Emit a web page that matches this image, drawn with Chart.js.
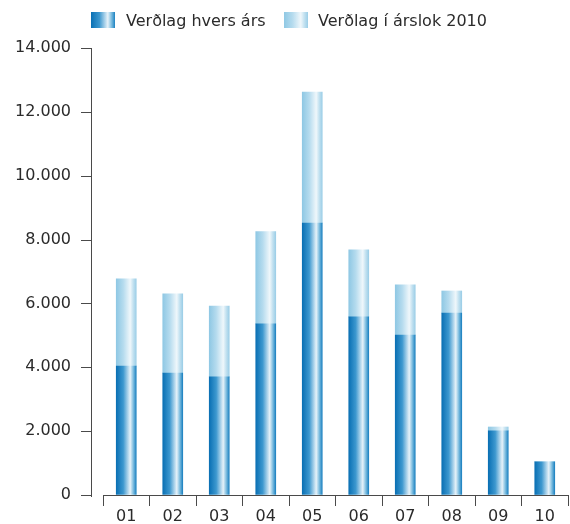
<!DOCTYPE html>
<html>
<head>
<meta charset="utf-8">
<script src="https://cdn.jsdelivr.net/npm/chart.js@4/dist/chart.umd.min.js"></script>
<style>
  body { margin: 0; background: #fff; }
  #wrap { position: relative; width: 570px; height: 524px; }
  #chart { position: absolute; left: 0; top: 0; }
  .lg-box { position: absolute; top: 12px; width: 24px; height: 16px; z-index: 1; }
  .lg-text { position: absolute; top: 11px; line-height: 20px; font: 16px "DejaVu Sans", sans-serif; color: #2b2b2b; white-space: nowrap; z-index: 1; }
</style>
</head>
<body>
<div id="wrap">
  <canvas id="chart" width="570" height="524"></canvas>
  <div class="lg-box" style="left:91px; background: linear-gradient(to right, #0a70b4 0%, #3d98cf 35%, #e6f2f9 70%, #7fbee0 85%, #1d82c1 100%);"></div>
  <div class="lg-text" style="left:126px;">Verðlag hvers árs</div>
  <div class="lg-box" style="left:284px; background: linear-gradient(to right, #8fc8e4 0%, #b5dbee 35%, #eff7fb 70%, #c2e1f0 85%, #9ccee7 100%);"></div>
  <div class="lg-text" style="left:318px;">Verðlag í árslok 2010</div>
</div>
<script>
    const categories = ["01", "02", "03", "04", "05", "06", "07", "08", "09", "10"];
    // Verðlag hvers árs (lower, darker part)
    const currentPrices = [4040, 3820, 3700, 5360, 8520, 5580, 5010, 5700, 2010, 1040];
    // Verðlag í árslok 2010 (total height of each bar)
    const prices2010 = [6770, 6300, 5920, 8250, 12620, 7680, 6580, 6390, 2130, 1040];
    const yTicks = [0, 2000, 4000, 6000, 8000, 10000, 12000, 14000];

    const AXIS_COLOR = "#4a4a4a";
    const TEXT_COLOR = "#2b2b2b";
    const BAR_WIDTH = 20;

    const darkStops = [[0, "#0a70b4"], [0.35, "#3d98cf"], [0.7, "#e6f2f9"], [0.85, "#7fbee0"], [1, "#1d82c1"]];
    const lightStops = [[0, "#8fc8e4"], [0.35, "#b5dbee"], [0.7, "#eff7fb"], [0.85, "#c2e1f0"], [1, "#9ccee7"]];

    // Horizontal gradient across each bar
    const barGradient = (stops, fallback) => (context) => {
        const chart = context.chart;
        if (!chart.chartArea || context.dataIndex === undefined) return fallback;
        const x = chart.scales.x.getPixelForValue(context.dataIndex);
        const g = chart.ctx.createLinearGradient(x - BAR_WIDTH / 2, 0, x + BAR_WIDTH / 2, 0);
        stops.forEach(s => g.addColorStop(s[0], s[1]));
        return g;
    };

    const formatNumber = (v) => String(v).replace(/\B(?=(\d{3})+(?!\d))/g, ".");

    // y axis sits a little to the left of where the x axis begins
    const yAxisLine = {
        id: "yAxisLine",
        afterDraw(chart) {
            const { ctx, chartArea, scales: { y } } = chart;
            const x0 = Math.round(chartArea.left) - 12;
            const top = Math.round(y.getPixelForValue(yTicks[yTicks.length - 1]));
            const bottom = Math.round(y.getPixelForValue(0));
            ctx.save();
            ctx.fillStyle = AXIS_COLOR;
            ctx.fillRect(x0, top, 1, bottom - top + 2);
            yTicks.forEach(t => {
                const py = Math.round(y.getPixelForValue(t));
                ctx.fillRect(x0 - 10, py, 11, 1);
            });
            ctx.restore();
        }
    };

    new Chart(document.getElementById("chart"), {
        type: "bar",
        data: {
            labels: categories,
            datasets: [{
                label: "Verðlag hvers árs",
                data: currentPrices,
                backgroundColor: barGradient(darkStops, "#1f86c4"),
                borderWidth: 0,
                barThickness: BAR_WIDTH
            }, {
                label: "Verðlag í árslok 2010",
                data: prices2010.map((v, i) => v - currentPrices[i]),
                backgroundColor: barGradient(lightStops, "#b5dbee"),
                borderWidth: 0,
                barThickness: BAR_WIDTH
            }]
        },
        options: {
            responsive: false,
            animation: false,
            layout: { padding: { top: 48, right: 2, bottom: 0, left: 0 } },
            plugins: {
                legend: { display: false },
                tooltip: { enabled: false }
            },
            scales: {
                x: {
                    stacked: true,
                    afterFit: (s) => { s.height = 29; },
                    border: { display: true, color: AXIS_COLOR, width: 1 },
                    grid: { offset: true, drawOnChartArea: false, drawTicks: true, tickLength: 11, color: AXIS_COLOR },
                    ticks: { padding: 2, color: TEXT_COLOR, font: { family: "DejaVu Sans", size: 16, lineHeight: 1.1 } }
                },
                y: {
                    stacked: true,
                    min: 0,
                    max: 14000,
                    afterFit: (s) => { s.width = 103; },
                    border: { display: false },
                    // invisible tick space pushes the labels left of the drawn axis
                    grid: { display: true, drawOnChartArea: false, drawTicks: true, tickLength: 32, color: "rgba(0,0,0,0)" },
                    ticks: {
                        stepSize: 2000,
                        padding: 0,
                        color: TEXT_COLOR,
                        font: { family: "DejaVu Sans", size: 16 },
                        callback: (v) => formatNumber(v)
                    }
                }
            }
        },
        plugins: [yAxisLine]
    });
</script>
</body>
</html>
